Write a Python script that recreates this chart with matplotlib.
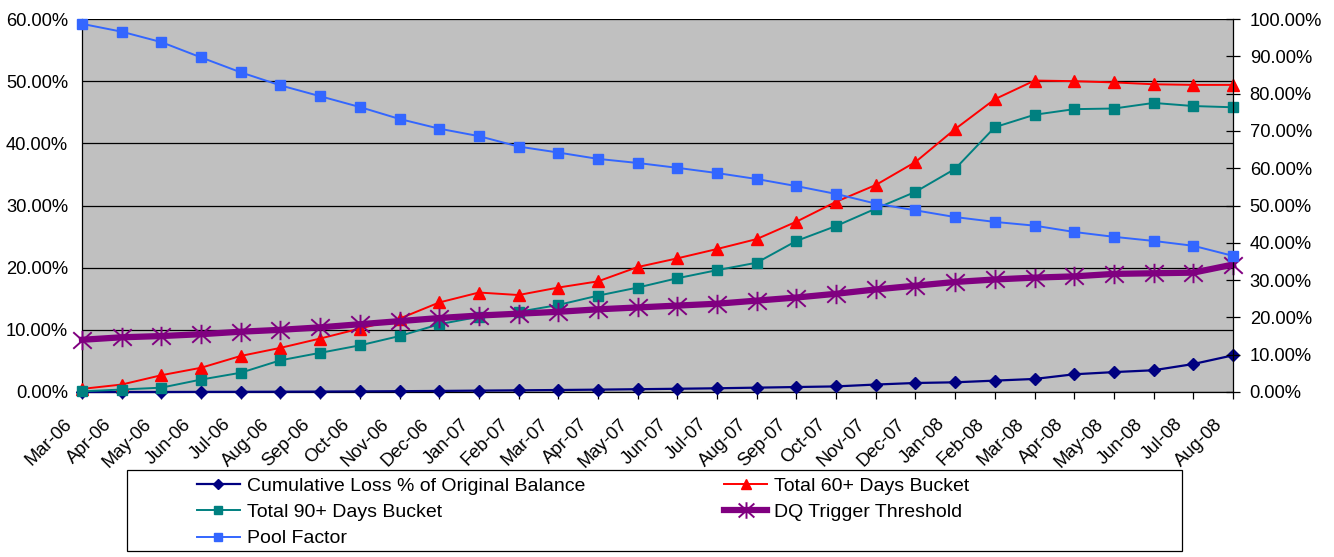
import matplotlib
matplotlib.use("Agg")
import matplotlib.pyplot as plt
from matplotlib.path import Path
from matplotlib.patches import Rectangle
from matplotlib.ticker import FuncFormatter, MultipleLocator
import matplotlib.transforms as mtransforms

plt.rcParams['font.family'] = ['Liberation Sans', 'DejaVu Sans']

# ---- data -------------------------------------------------------------
months = ["Mar-06", "Apr-06", "May-06", "Jun-06", "Jul-06", "Aug-06", "Sep-06",
          "Oct-06", "Nov-06", "Dec-06", "Jan-07", "Feb-07", "Mar-07", "Apr-07",
          "May-07", "Jun-07", "Jul-07", "Aug-07", "Sep-07", "Oct-07", "Nov-07",
          "Dec-07", "Jan-08", "Feb-08", "Mar-08", "Apr-08", "May-08", "Jun-08",
          "Jul-08", "Aug-08"]

cum_loss = [0.00, 0.00, 0.00, 0.02, 0.03, 0.05, 0.07, 0.10, 0.13, 0.17,
            0.22, 0.27, 0.32, 0.38, 0.45, 0.52, 0.60, 0.70, 0.80, 0.90,
            1.20, 1.45, 1.56, 1.83, 2.10, 2.85, 3.20, 3.50, 4.50, 5.90]

dq_60 = [0.5, 1.2, 2.7, 3.9, 5.8, 7.1, 8.6, 10.2, 11.8, 14.4,
         16.0, 15.6, 16.8, 17.8, 20.1, 21.5, 23.0, 24.6, 27.4, 30.6,
         33.3, 37.0, 42.3, 47.1, 50.1, 50.0, 49.8, 49.5, 49.4, 49.4]

dq_90 = [0.1, 0.4, 0.7, 2.0, 3.1, 5.1, 6.3, 7.5, 9.0, 10.9,
         12.1, 12.9, 14.0, 15.5, 16.8, 18.3, 19.6, 20.8, 24.3, 26.7,
         29.5, 32.2, 35.9, 42.6, 44.6, 45.5, 45.6, 46.5, 46.0, 45.8]

dq_trigger = [8.4, 8.8, 9.0, 9.3, 9.7, 10.0, 10.4, 10.9, 11.4, 11.9,
              12.3, 12.6, 12.9, 13.3, 13.6, 13.9, 14.2, 14.7, 15.2, 15.8,
              16.5, 17.1, 17.7, 18.1, 18.4, 18.6, 19.0, 19.1, 19.2, 20.5]

pool_factor = [98.7, 96.6, 93.8, 89.7, 85.7, 82.2, 79.3, 76.4, 73.2, 70.6,
               68.6, 65.8, 64.2, 62.5, 61.4, 60.1, 58.7, 57.1, 55.2, 53.1,
               50.5, 48.7, 46.9, 45.6, 44.6, 42.9, 41.6, 40.5, 39.2, 36.5]

labels = ["Cumulative Loss % of Original Balance", "Total 60+ Days Bucket",
          "Total 90+ Days Bucket", "DQ Trigger Threshold", "Pool Factor"]

# ---- styling ----------------------------------------------------------
NAVY = "#000080"
RED = "#FF0000"
TEAL = "#008080"
PURPLE = "#800080"
BLUE = "#3366FF"
FS = 13.2
LEG_FS = 14

# six-armed asterisk marker
star = Path([(0, -1), (0, 1), (-0.95, -0.85), (0.95, 0.85),
             (-0.95, 0.85), (0.95, -0.85)],
            [Path.MOVETO, Path.LINETO, Path.MOVETO, Path.LINETO,
             Path.MOVETO, Path.LINETO])

W, H = 1334, 557
fig = plt.figure(figsize=(W / 100, H / 100), dpi=100)
fig.patch.set_facecolor("white")

L, R, T, B = 82, 1233, 19, 392
ax = fig.add_axes([L / W, 1 - B / H, (R - L) / W, (B - T) / H])
ax.set_facecolor("#C0C0C0")

x = list(range(len(months)))

l_cum, = ax.plot(x, cum_loss, color=NAVY, lw=1.6, marker="D", ms=6.5,
                 mec=NAVY, mfc=NAVY, clip_on=False, zorder=3)
l_60, = ax.plot(x, dq_60, color=RED, lw=1.4, marker="^", ms=8.5,
                mec=RED, mfc=RED, clip_on=False, zorder=4)
l_90, = ax.plot(x, dq_90, color=TEAL, lw=1.4, marker="s", ms=7.5,
                mec=TEAL, mfc=TEAL, clip_on=False, zorder=5)
l_dq, = ax.plot(x, dq_trigger, color=PURPLE, lw=4.5, marker=star, ms=14,
                mec=PURPLE, mew=1.4, clip_on=False, zorder=6)

ax.set_xlim(0, len(months) - 1)
ax.set_ylim(0, 60)
ax.yaxis.set_major_locator(MultipleLocator(10))
ax.yaxis.set_major_formatter(FuncFormatter(lambda v, p: f"{v:.2f}%"))
ax.grid(axis="y", color="black", lw=0.9, zorder=1)
ax.set_axisbelow(True)
ax.set_xticks(x)
ax.set_xticklabels(months, rotation=45, ha="right", va="top", fontsize=FS)
ax.tick_params(axis="x", direction="out", length=5, width=0.9, pad=12)
ax.tick_params(axis="y", length=0, pad=10, labelsize=FS)
offset = mtransforms.ScaledTranslation(-7 / 100, 0, fig.dpi_scale_trans)
for lab in ax.get_xticklabels():
    lab.set_transform(lab.get_transform() + offset)

for side in ("top", "right"):
    ax.spines[side].set_visible(False)
ax.spines["left"].set_linewidth(0.9)
ax.spines["bottom"].set_linewidth(0.9)

# secondary axis for the pool factor
ax2 = ax.twinx()
ax2.patch.set_visible(False)
l_pool, = ax2.plot(x, pool_factor, color=BLUE, lw=1.4, marker="s", ms=7.5,
                   mec=BLUE, mfc=BLUE, clip_on=False, zorder=7)
ax2.set_ylim(0, 100)
ax2.yaxis.set_major_locator(MultipleLocator(10))
ax2.yaxis.set_major_formatter(FuncFormatter(lambda v, p: f"{v:.2f}%"))
ax2.tick_params(axis="y", direction="inout", length=10, width=0.9, pad=7,
                labelsize=FS)
for side in ("top", "left", "bottom"):
    ax2.spines[side].set_visible(False)
ax2.spines["right"].set_linewidth(0.9)

# legend with a separate frame
fig.add_artist(Rectangle((127 / W, 1 - 551 / H), 1055 / W, 81 / H,
                         transform=fig.transFigure, fill=False,
                         edgecolor="black", lw=0.9))
handles = [l_cum, l_90, l_pool, l_60, l_dq]
names = [labels[0], labels[2], labels[4], labels[1], labels[3]]
fig.legend(handles, names, loc="upper left",
           bbox_to_anchor=(197 / W, 1 - 477 / H), ncol=2, frameon=False,
           fontsize=LEG_FS, borderpad=0, borderaxespad=0, handlelength=2.2,
           handletextpad=0.36, columnspacing=7.15, labelspacing=0.45,
           markerscale=0.85)

fig.savefig("out.png", dpi=100, facecolor="white")
